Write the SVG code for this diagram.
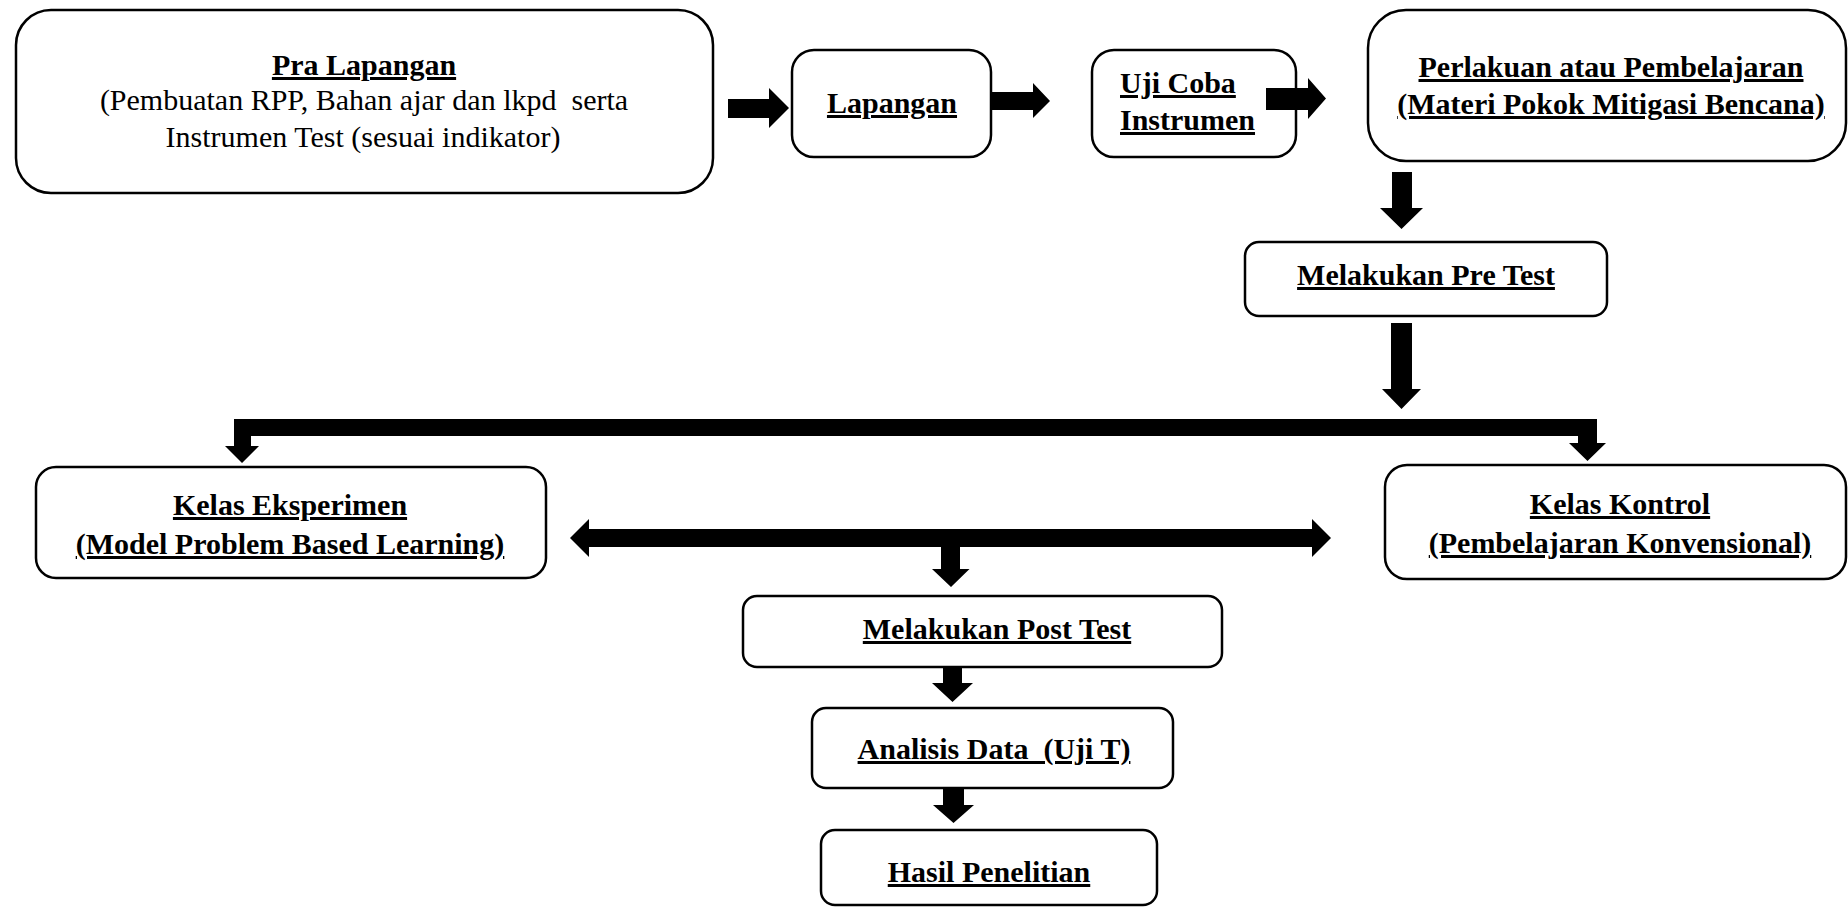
<svg xmlns="http://www.w3.org/2000/svg" width="1848" height="907" viewBox="0 0 1848 907">
<style>
.box{fill:#fff;stroke:#000;stroke-width:2.5}
.t{font-family:"Liberation Serif","Times New Roman",serif;font-size:30px;fill:#000}
.b{font-weight:bold;text-decoration:underline}
.c{text-anchor:middle}
.arr{fill:#000;stroke:none}
</style>
<rect width="1848" height="907" fill="#fff"/>
<g id="pra">
<rect class="box" x="16" y="10" width="697" height="183" rx="35"/>
<text class="t b c" x="364" y="75">Pra Lapangan</text>
<text class="t c" x="364" y="110" font-size="29" xml:space="preserve">(Pembuatan RPP, Bahan ajar dan lkpd  serta</text>
<text class="t c" x="363" y="147" font-size="29.5">Instrumen Test (sesuai indikator)</text>
</g>
<g id="lapangan">
<rect class="box" x="792" y="50" width="199" height="107" rx="22"/>
<text class="t b c" x="892" y="113">Lapangan</text>
</g>
<g id="ujicoba">
<rect class="box" x="1092" y="50" width="204" height="107" rx="22"/>
<text class="t b" x="1120" y="93">Uji Coba</text>
<text class="t b" x="1120" y="130">Instrumen</text>
</g>
<g id="perlakuan">
<rect class="box" x="1368" y="10" width="478" height="151" rx="38"/>
<text class="t b c" x="1611" y="77">Perlakuan atau Pembelajaran</text>
<text class="t b c" x="1611" y="114">(Materi Pokok Mitigasi Bencana)</text>
</g>
<g id="pretest">
<rect class="box" x="1245" y="242" width="362" height="74" rx="14"/>
<text class="t b c" x="1426" y="285">Melakukan Pre Test</text>
</g>
<g id="eksperimen">
<rect class="box" x="36" y="467" width="510" height="111" rx="20"/>
<text class="t b c" x="290" y="515">Kelas Eksperimen</text>
<text class="t b c" x="290" y="554">(Model Problem Based Learning)</text>
</g>
<g id="kontrol">
<rect class="box" x="1385" y="465" width="461" height="114" rx="22"/>
<text class="t b c" x="1620" y="514">Kelas Kontrol</text>
<text class="t b c" x="1620" y="553">(Pembelajaran Konvensional)</text>
</g>
<g id="posttest">
<rect class="box" x="743" y="596" width="479" height="71" rx="14"/>
<text class="t b c" x="997" y="639">Melakukan Post Test</text>
</g>
<g id="analisis">
<rect class="box" x="812" y="708" width="361" height="80" rx="14"/>
<text class="t b c" x="994" y="759" xml:space="preserve">Analisis Data  (Uji T)</text>
</g>
<g id="hasil">
<rect class="box" x="821" y="830" width="336" height="75" rx="14"/>
<text class="t b c" x="989" y="882">Hasil Penelitian</text>
</g>
<g id="connectors">
<polygon class="arr" points="728,99 769,99 769,88 789,108 769,128 769,118 728,118"/>
<polygon class="arr" points="992,92 1033,92 1033,83 1050,101 1033,118 1033,110 992,110"/>
<polygon class="arr" points="1266,88 1308,88 1308,78 1326,98.5 1308,119 1308,110 1266,110"/>
<polygon class="arr" points="1392,172 1412,172 1412,208 1423,208 1401.5,229 1380,208 1392,208"/>
<polygon class="arr" points="1391,323 1412,323 1412,389 1421,389 1401.5,409 1382,389 1391,389"/>
<polygon class="arr" points="234,419 1597,419 1597,443 1606,443 1587.5,461 1569,443 1578,443 1578,436 251,436 251,446 259,446 242,463 225,446 234,446"/>
<polygon class="arr" points="570,538 589,519 589,529 1312,529 1312,519 1331,538 1312,557 1312,547 589,547 589,557"/>
<polygon class="arr" points="941,547 960,547 960,569 969.5,569 951,587 932,569 941,569"/>
<polygon class="arr" points="943,667 962,667 962,683 973,683 952.5,702 932,683 943,683"/>
<polygon class="arr" points="943,788 964,788 964,805 974,805 953.5,823 933,805 943,805"/>
</g>
</svg>
